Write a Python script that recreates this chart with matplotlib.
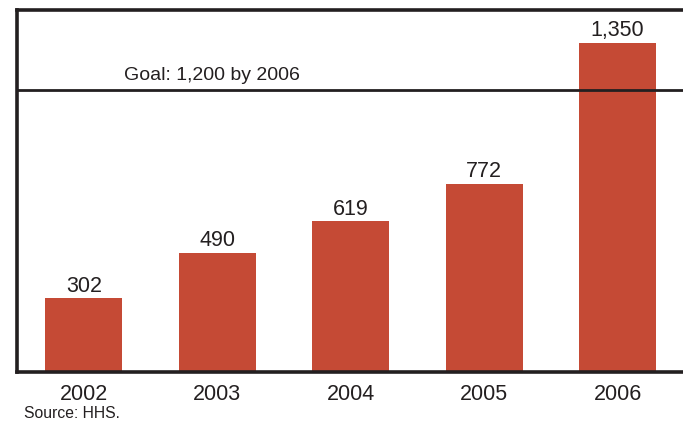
import matplotlib
matplotlib.use("Agg")
import matplotlib.pyplot as plt

years = ["2002", "2003", "2004", "2005", "2006"]
values = [302, 490, 619, 772, 1350]
value_labels = ["302", "490", "619", "772", "1,350"]
goal_label = "Goal: 1,200 by 2006"
goal_line = 1157  # where the goal line is drawn in the reference
source = "Source: HHS."

bar_color = "#C54A35"
plt.rcParams['font.family'] = ['Liberation Sans', 'DejaVu Sans']

fig = plt.figure(figsize=(6.83, 4.21), dpi=100)
ax = fig.add_axes([17/683, 1 - 372/421, 1 - 17/683 + 0.002, (372 - 10)/421])

x = range(len(years))
ax.bar(x, values, width=0.577, color=bar_color, zorder=2)
for xi, v, lab in zip(x, values, value_labels):
    ax.text(xi, v + 6, lab, ha='center', va='bottom', fontsize=15.5, color='#231F20')

ax.axhline(goal_line, color='#231F20', lw=2, zorder=3)
ax.text(0.3, goal_line + 26, goal_label, ha='left', va='bottom', fontsize=14, color='#231F20')

ax.set_xlim(-0.5, 4.5)
ax.set_ylim(0, 1485)
ax.set_xticks(list(x))
ax.set_xticklabels(years, fontsize=15.5, color='#231F20')
ax.tick_params(axis='x', length=0, pad=9)
ax.set_yticks([])
for s in ['left', 'top', 'bottom']:
    ax.spines[s].set_linewidth(2.6)
    ax.spines[s].set_color('#231F20')
ax.spines['right'].set_visible(False)

fig.text(24/683, 1 - 418/421, source, fontsize=11.3, color='#231F20', ha='left', va='baseline')

fig.savefig("out.png", dpi=100)
